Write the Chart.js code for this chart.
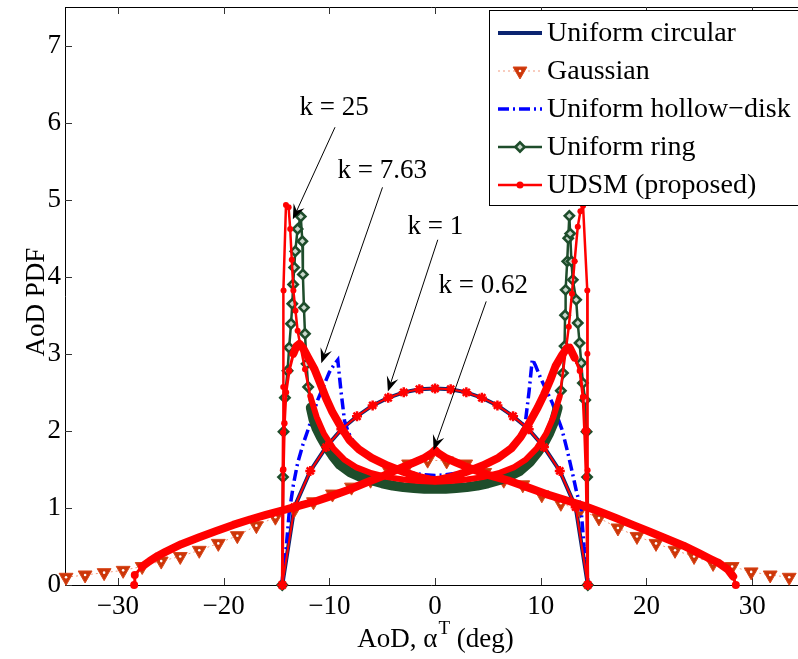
<!DOCTYPE html>
<html>
<head>
<meta charset="utf-8">
<title>AoD PDF</title>
<script src="https://cdn.jsdelivr.net/npm/chart.js@4.4.1/dist/chart.umd.min.js"></script>
<style>
  html,body{margin:0;padding:0;background:#fff;}
  canvas{display:block;}
</style>
</head>
<body>
<canvas id="aod" width="798" height="659"></canvas>
<script>
'use strict';

// ── axis ticks ────────────────────────────────────────────────────────────────
const xTicks=[-30,-20,-10,0,10,20,30];
const yTicks=[0,1,2,3,4,5,6,7];

const seriesNames=['Uniform circular','Gaussian','Uniform hollow\u2212disk','Uniform ring','UDSM (proposed)'];

// ── uniform circular model ────────────────────────────────────────────────────
const circX=[-14.45,-13.3,-11.8,-10.3,-8.86,-7.38,-5.9,-4.43,-2.96,-1.48,0,1.48,2.96,4.43,5.9,7.38,8.86,10.3,11.8,13.3,14.45];
const circY=[0,1.01,1.48,1.79,2.02,2.19,2.33,2.43,2.50,2.54,2.55,2.54,2.50,2.43,2.33,2.19,2.02,1.79,1.48,1.01,0];

// ── gaussian model ────────────────────────────────────────────────────────────
const gaussX=[-34.9,-33.1,-31.3,-29.5,-27.7,-25.9,-24.1,-22.3,-20.5,-18.7,-16.9,-15.1,-13.3,-11.5,-9.7,-7.9,-6.1,-4.3,-2.5,-0.7,
  1.1,2.9,4.7,6.5,8.3,10.1,11.9,13.7,15.5,17.3,19.1,20.9,22.7,24.5,26.3,28.1,29.9,31.7,33.5];
const gaussY=[0.10,0.13,0.16,0.19,0.24,0.31,0.37,0.45,0.54,0.64,0.77,0.88,0.98,1.08,1.18,1.27,1.36,1.47,1.57,1.62,
  1.61,1.57,1.46,1.36,1.30,1.17,1.06,0.97,0.87,0.74,0.63,0.54,0.45,0.37,0.28,0.24,0.17,0.13,0.10];

// ── uniform hollow-disk model ─────────────────────────────────────────────────
const hollowX=[-14.5,-14.3,-14.1,-13.8,-13.4,-13.0,-12.5,-12.0,-11.1,-10.0,-9.5,-9.2,-8.9,-8.56,-8.2,-7.8,-7.2,-6.2,-5.0,-3.5,-2.0,-1.0,0,
  1.0,2.0,3.5,5.0,6.2,7.2,7.8,8.2,8.56,8.9,9.2,9.5,10.0,11.1,12.0,12.5,13.0,13.4,13.8,14.1,14.3,14.5];
const hollowY=[0,0.25,0.45,0.93,1.3,1.58,1.82,2.02,2.4,2.76,2.87,2.92,2.52,2.13,1.98,1.88,1.77,1.66,1.57,1.50,1.45,1.43,1.42,
  1.43,1.45,1.50,1.57,1.66,1.77,1.88,1.98,2.13,2.52,2.93,2.85,2.68,2.36,2.02,1.75,1.45,1.2,1.0,0.5,0.25,0];

// ── uniform ring model ────────────────────────────────────────────────────────
const ringX=[-14.45,-14.38,-14.33,-14.2,-13.95,-13.8,-13.62,-13.5,-13.42,-13.32,-13.22,-13.0,-12.7,-12.55,-12.5,-12.4,-12.3,-12.15,-12.0,
  -11.75,-11.5,-11.2,-10.8,-10.3,-9.7,-9.0,-8.0,-7.0,-6.0,-5.0,-4.0,-3.0,-2.0,-1.0,0,
  1.0,2.0,3.0,4.0,5.0,6.0,7.0,8.0,9.0,9.7,10.3,10.8,11.2,11.6,11.9,12.1,12.25,12.3,12.35,12.5,12.6,12.7,12.78,12.9,13.03,
  13.35,13.5,13.67,13.83,13.98,14.2,14.33,14.38,14.45];
const ringY=[0,1.40,1.99,2.43,2.78,3.08,3.39,3.65,3.9,4.12,4.33,4.62,4.78,4.46,4.03,3.6,3.26,2.87,2.57,
  2.3,2.15,2.03,1.92,1.8,1.68,1.56,1.46,1.40,1.36,1.32,1.29,1.27,1.26,1.25,1.25,
  1.25,1.26,1.27,1.29,1.32,1.36,1.41,1.48,1.6,1.72,1.84,1.97,2.1,2.3,2.52,2.75,3.1,3.5,3.83,4.2,4.5,4.79,4.56,4.2,3.96,
  3.7,3.4,3.14,2.88,2.62,2.4,1.99,1.40,0];

// ── UDSM, k = 25 ──────────────────────────────────────────────────────────────
const k25X=[-14.42,-14.4,-14.38,-14.36,-14.33,-14.1,-13.85,-13.7,-13.55,-13.4,-13.2,-13.0,-12.7,-12.3,-11.8,-11.2,-10.5,-9.6,-8.6,-7.5,-6.0,-4.5,-3.0,-1.5,0,
  1.5,3.0,4.5,6.0,7.5,8.6,9.6,10.5,11.2,11.8,12.4,12.65,12.95,13.2,13.5,13.75,14.0,14.4,14.41,14.42,14.43,14.45];
const k25Y=[0,1.49,1.98,2.57,3.82,4.93,4.9,4.62,4.22,3.82,3.56,3.3,3.08,2.8,2.45,2.18,1.96,1.77,1.63,1.53,1.45,1.40,1.37,1.35,1.34,
  1.35,1.37,1.40,1.45,1.53,1.63,1.77,1.96,2.18,2.45,3.08,3.35,3.78,4.2,4.65,4.85,4.92,3.82,3.0,2.0,1.49,0];

// ── UDSM, k = 7.63 ────────────────────────────────────────────────────────────
const k763X=[-14.45,-14.35,-14.25,-14.1,-13.8,-13.4,-13.1,-12.83,-12.5,-12.0,-11.4,-10.9,-10.3,-9.7,-8.9,-8.1,-7.2,-6.0,-4.5,-3.0,-1.5,-0.5,0,
  0.5,1.5,3.0,4.5,6.0,7.2,8.1,8.9,9.7,10.3,10.9,11.4,12.0,12.4,12.74,13.2,13.7,14.0,14.15,14.3,14.45];
const k763Y=[0,1.5,2.1,2.5,2.78,3.0,3.1,3.13,3.08,2.95,2.8,2.63,2.42,2.24,2.05,1.88,1.76,1.65,1.55,1.47,1.40,1.37,1.36,
  1.37,1.40,1.47,1.55,1.65,1.77,1.92,2.1,2.3,2.47,2.66,2.84,2.98,3.06,3.08,2.95,2.78,2.44,2.0,1.4,0];

// ── UDSM, k = 1 ───────────────────────────────────────────────────────────────
const k1X=[-14.45,-13.3,-11.8,-10.3,-8.86,-7.38,-5.9,-4.43,-2.96,-1.48,0,1.48,2.96,4.43,5.9,7.38,8.86,10.3,11.8,13.3,14.45];
const k1Y=[0,1.01,1.48,1.79,2.02,2.19,2.33,2.43,2.50,2.54,2.55,2.54,2.50,2.43,2.33,2.19,2.02,1.79,1.48,1.01,0];

// ── UDSM, k = 0.62 ────────────────────────────────────────────────────────────
const k062X=[-28.46,-28.4,-27.7,-27.0,-26.2,-25.5,-24.0,-22.3,-20.7,-19.1,-17.5,-16.0,-14.4,-12.8,-11.2,-9.7,-8.1,-6.5,-5.0,-3.4,-2.0,-1.0,-0.3,0,
  0.3,1.0,2.0,3.4,5.0,7.05,8.7,10.5,12.4,14.0,15.6,17.1,18.7,20.3,21.9,23.5,25.0,26.0,26.9,27.7,28.2,28.45];
const k062Y=[0,0.13,0.24,0.31,0.38,0.43,0.53,0.62,0.70,0.78,0.85,0.91,0.97,1.03,1.09,1.16,1.24,1.33,1.41,1.51,1.59,1.65,1.71,1.75,
  1.71,1.65,1.59,1.51,1.43,1.35,1.27,1.18,1.10,1.03,0.95,0.87,0.78,0.69,0.60,0.51,0.41,0.34,0.28,0.20,0.11,0];

// ── k annotations (data coords) ───────────────────────────────────────────────
const kText =['k = 25','k = 7.63','k = 1','k = 0.62'];
const kTextX=[-12.82,-9.22,-2.60,0.33];
const kTextY=[6.10,5.28,4.55,3.79];
const kTailX=[-9.46,-4.97,0.26,4.84];
const kTailY=[5.94,5.16,4.48,3.68];
const kHeadX=[-13.45,-10.76,-4.46,-0.14];
const kHeadY=[4.745,2.877,2.51,1.75];

const NAVY='#0b2470', SALMON='#f29a7e', G_FILL='#cc3608', G_EDGE='#d8461a',
      BLUE='#0000ff', GREEN='#1e4d2b', RED='#ff0000', DIA_FILL='#c9d8cc';
const SERIF="'Liberation Serif','Times New Roman',serif";

const pts=(xs,ys)=>xs.map((x,i)=>({x,y:ys[i]}));
// thick where the markers are packed into a band, thin where they are spread out
const bandSeg=(lim,thick,thin)=>c=>(Math.abs(c.p0.parsed.x)<lim&&Math.abs(c.p1.parsed.x)<lim)?thick:thin;
const sparsePt=(lim,r)=>c=>(c.raw&&Math.abs(c.raw.x)<lim)?0:r;

const udsm=(xs,ys,extra)=>Object.assign({data:pts(xs,ys),borderColor:RED,borderWidth:2.5,pointRadius:0,
  pointBackgroundColor:RED,pointBorderColor:RED,pointBorderWidth:0,borderJoinStyle:'round',borderCapStyle:'round'},extra);

const datasets=[
  {data:pts(circX,circY),borderColor:NAVY,borderWidth:4,pointRadius:0,order:9},
  {data:pts(gaussX,gaussY),borderColor:SALMON,borderWidth:1,borderDash:[2,3],pointStyle:'triangle',rotation:180,
   pointRadius:8,pointBackgroundColor:G_FILL,pointBorderColor:G_EDGE,pointBorderWidth:1,order:8},
  {data:pts(gaussX,gaussY),showLine:false,pointRadius:1.3,pointBackgroundColor:'#fff',pointBorderWidth:0,order:7.5},
  {data:pts(hollowX,hollowY),borderColor:BLUE,borderWidth:3.5,borderDash:[11,4,2,4],pointRadius:0,order:7},
  {data:pts(ringX,ringY),borderColor:GREEN,borderWidth:2.5,segment:{borderWidth:bandSeg(11.9,10,2.5)},
   borderJoinStyle:'round',borderCapStyle:'round',
   pointStyle:'rectRot',pointRadius:sparsePt(11.9,4.6),pointBackgroundColor:DIA_FILL,pointBorderColor:GREEN,pointBorderWidth:2.6,order:6},
  udsm(k25X,k25Y,{segment:{borderWidth:bandSeg(12.3,6,2.5)},pointRadius:sparsePt(12.3,3),order:5}),
  udsm(k763X,k763Y,{borderWidth:3,segment:{borderWidth:bandSeg(13.5,8,3)},pointRadius:sparsePt(13.5,3.2),order:4}),
  udsm(k1X,k1Y,{borderWidth:2,pointStyle:'star',pointRadius:5,pointBorderWidth:2.5,order:3}),
  udsm(k062X,k062Y,{borderWidth:3,segment:{borderWidth:bandSeg(28.3,8,3)},pointRadius:sparsePt(28.3,4),order:2})
];

const legendRows=[
  {line:{color:NAVY,width:4}},
  {line:{color:SALMON,width:1,dash:[2,3]},mark:{pointStyle:'triangle',rotation:180,radius:8,fill:G_FILL,stroke:G_EDGE,borderWidth:1},core:true},
  {line:{color:BLUE,width:3.5,dash:[11,4,2,4]}},
  {line:{color:GREEN,width:2.5},mark:{pointStyle:'rectRot',rotation:0,radius:4.6,fill:DIA_FILL,stroke:GREEN,borderWidth:2.6}},
  {line:{color:RED,width:2.5},mark:{pointStyle:'circle',rotation:0,radius:3.5,fill:RED,stroke:RED,borderWidth:0}}
];

function arrow(ctx,x0,y0,x1,y1){
  const a=Math.atan2(y1-y0,x1-x0), L=15, W=6;
  ctx.beginPath(); ctx.moveTo(x0,y0); ctx.lineTo(x1-Math.cos(a)*L*0.6,y1-Math.sin(a)*L*0.6); ctx.stroke();
  ctx.save(); ctx.translate(x1,y1); ctx.rotate(a);
  ctx.beginPath(); ctx.moveTo(0,0); ctx.lineTo(-L,-W); ctx.lineTo(-L*0.62,0); ctx.lineTo(-L,W); ctx.closePath(); ctx.fill();
  ctx.restore();
}

// axes box is fixed: no extra room for the outer tick labels
function noPad(s){s.paddingTop=0;s.paddingBottom=0;s.paddingLeft=0;s.paddingRight=0;}

const frame={
  id:'frame',
  beforeDatasetsDraw(chart){
    const {ctx,chartArea:a,scales:{x,y}}=chart;
    ctx.save();
    ctx.strokeStyle='#000'; ctx.lineWidth=1;
    ctx.beginPath();
    ctx.moveTo(a.left+0.5,a.top+0.5); ctx.lineTo(a.right,a.top+0.5);
    ctx.moveTo(a.left+0.5,a.top); ctx.lineTo(a.left+0.5,a.bottom+0.5);
    ctx.moveTo(a.left,a.bottom+0.5); ctx.lineTo(a.right,a.bottom+0.5);
    ctx.stroke();
    ctx.strokeStyle='#333';
    ctx.beginPath();
    xTicks.forEach(v=>{const px=Math.round(x.getPixelForValue(v))+0.5;
      ctx.moveTo(px,a.bottom); ctx.lineTo(px,a.bottom-7); ctx.moveTo(px,a.top); ctx.lineTo(px,a.top+7);});
    yTicks.forEach(v=>{const py=Math.round(y.getPixelForValue(v))+0.5;
      ctx.moveTo(a.left,py); ctx.lineTo(a.left+7,py);});
    ctx.stroke();
    ctx.restore();
  },
  afterDraw(chart){
    const {ctx,chartArea:a,scales:{x,y}}=chart;
    ctx.save();
    ctx.fillStyle='#000'; ctx.strokeStyle='#000';

    // k labels and arrows
    ctx.font=`27px ${SERIF}`; ctx.textAlign='left'; ctx.textBaseline='alphabetic';
    kText.forEach((t,i)=>{
      ctx.fillText(t,x.getPixelForValue(kTextX[i]),y.getPixelForValue(kTextY[i]));
      ctx.lineWidth=1;
      arrow(ctx,x.getPixelForValue(kTailX[i]),y.getPixelForValue(kTailY[i]),
                x.getPixelForValue(kHeadX[i]),y.getPixelForValue(kHeadY[i]));
    });

    // axis titles
    ctx.save();
    ctx.translate(44,302); ctx.rotate(-Math.PI/2);
    ctx.textAlign='center'; ctx.fillText('AoD PDF',0,0);
    ctx.restore();
    const big=`27px ${SERIF}`, sup=`19px ${SERIF}`;
    const p1='AoD, \u03b1', p2='T', p3=' (deg)';
    ctx.font=big; const w1=ctx.measureText(p1).width, w3=ctx.measureText(p3).width;
    ctx.font=sup; const w2=ctx.measureText(p2).width;
    let tx=435.5-(w1+w2+w3+1)/2; const ty=647;
    ctx.textAlign='left';
    ctx.font=big; ctx.fillText(p1,tx,ty); tx+=w1+1;
    ctx.font=sup; ctx.fillText(p2,tx,ty-13); tx+=w2;
    ctx.font=big; ctx.fillText(p3,tx,ty);

    // legend box
    const lx=489.5, ly=10.5, rowH=38, top=33;
    ctx.fillStyle='#fff'; ctx.fillRect(lx,ly,320,195);
    ctx.lineWidth=1; ctx.strokeStyle='#000'; ctx.strokeRect(lx,ly,320,195);
    legendRows.forEach((r,i)=>{
      const cy=top+i*rowH;
      ctx.save();
      ctx.strokeStyle=r.line.color; ctx.lineWidth=r.line.width; ctx.setLineDash(r.line.dash||[]);
      ctx.beginPath(); ctx.moveTo(498,cy); ctx.lineTo(542,cy); ctx.stroke();
      ctx.setLineDash([]);
      if(r.mark){
        ctx.fillStyle=r.mark.fill; ctx.strokeStyle=r.mark.stroke; ctx.lineWidth=r.mark.borderWidth;
        Chart.helpers.drawPoint(ctx,r.mark,520,cy);
      }
      if(r.core){ctx.fillStyle='#fff'; ctx.beginPath(); ctx.arc(520,cy,1.3,0,Math.PI*2); ctx.fill();}
      ctx.restore();
      ctx.fillStyle='#000'; ctx.font=`28px ${SERIF}`; ctx.textBaseline='middle';
      ctx.fillText(seriesNames[i],547,cy+1);
    });
    ctx.restore();
  }
};

const minus=v=>String(v).replace('-','\u2212');

new Chart(document.getElementById('aod'),{
  type:'line',
  data:{datasets},
  options:{
    responsive:false,animation:false,events:[],
    clip:false,
    layout:{autoPadding:false,padding:{top:7,right:0,left:0,bottom:0}},
    elements:{line:{tension:0}},
    plugins:{legend:{display:false},tooltip:{enabled:false}},
    scales:{
      x:{type:'linear',min:-35,max:34.33,
        afterFit(s){s.height=74;noPad(s);},
        afterBuildTicks(s){s.ticks=xTicks.map(v=>({value:v}));},
        grid:{display:false,drawTicks:false},border:{display:false},
        ticks:{color:'#000',padding:6,font:{family:SERIF,size:27},callback:minus,maxRotation:0}},
      y:{type:'linear',min:0,max:7.5,
        afterFit(s){s.width=65;noPad(s);},
        afterBuildTicks(s){s.ticks=yTicks.map(v=>({value:v}));},
        grid:{display:false,drawTicks:false},border:{display:false},
        ticks:{color:'#000',padding:4,font:{family:SERIF,size:27},callback:minus}}
    }
  },
  plugins:[frame]
});
</script>
</body>
</html>
